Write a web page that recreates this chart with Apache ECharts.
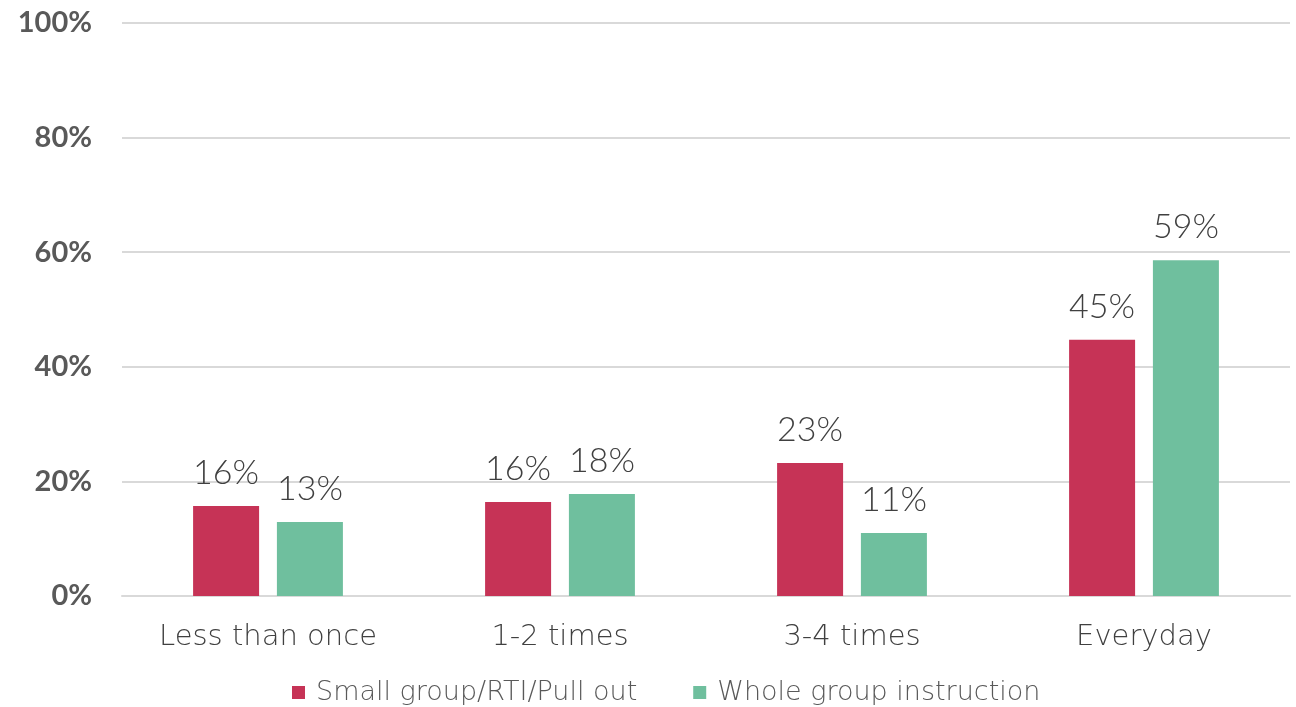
<!DOCTYPE html>
<html>
<head>
<meta charset="utf-8">
<script src="https://cdn.jsdelivr.net/npm/echarts@6/dist/echarts.min.js"></script>
<style>
  html, body { margin: 0; padding: 0; background: #ffffff; }
  #chart { width: 1296px; height: 707px; }
</style>
</head>
<body>
<div id="chart"></div>
<script>
// Frequency categories along the x axis
const categories = ['Less than once', '1-2 times', '3-4 times', 'Everyday'];
// Share of respondents (%) for each instruction format
const smallGroup = [15.7, 16.4, 23.2, 44.7];
const wholeGroup = [12.9, 17.8, 11.0, 58.6];
const seriesNames = ['Small group/RTI/Pull out', 'Whole group instruction'];
const yTicks = [0, 20, 40, 60, 80, 100];

const WIDE = '"DejaVu Sans", sans-serif';
const NUM = 'Lato, "DejaVu Sans", sans-serif';
const chart = echarts.init(document.getElementById('chart'), null, { renderer: 'canvas' });

const labelStyle = {
  show: true,
  position: 'top',
  distance: 16,
  color: '#404040',
  fontFamily: NUM,
  fontWeight: 300,
  fontSize: 34,
  formatter: p => Math.round(p.value) + '%'
};

chart.setOption({
  animation: false,
  backgroundColor: '#ffffff',
  grid: { left: 122, right: 6, top: 23, bottom: 111, containLabel: false },
  legend: {
    top: 679,
    left: 292,
    padding: 0,
    itemWidth: 13,
    itemHeight: 13,
    itemGap: 56,
    icon: 'rect',
    textStyle: { color: '#595959', fontFamily: WIDE, fontWeight: 200, fontSize: 27, padding: [0, 0, 0, 6] },
    data: seriesNames
  },
  xAxis: {
    type: 'category',
    data: categories,
    axisLine: { show: true, lineStyle: { color: '#d9d9d9', width: 2 } },
    axisTick: { show: false },
    axisLabel: { color: '#404040', fontFamily: WIDE, fontWeight: 200, fontSize: 29, margin: 27 }
  },
  yAxis: {
    type: 'value',
    min: yTicks[0],
    max: yTicks[yTicks.length - 1],
    interval: 20,
    axisLine: { show: false },
    axisTick: { show: false },
    splitLine: { lineStyle: { color: '#d9d9d9', width: 2 } },
    axisLabel: {
      color: '#595959', fontFamily: NUM, fontSize: 29, fontWeight: 'bold', margin: 30,
      formatter: v => v + '%'
    }
  },
  series: [
    {
      name: seriesNames[0], type: 'bar', data: smallGroup,
      barWidth: 66, barGap: '27%',
      itemStyle: { color: '#c63356' },
      label: labelStyle
    },
    {
      name: seriesNames[1], type: 'bar', data: wholeGroup,
      barWidth: 66, barGap: '27%',
      itemStyle: { color: '#6fbf9e' },
      label: labelStyle
    }
  ]
});
</script>
</body>
</html>
